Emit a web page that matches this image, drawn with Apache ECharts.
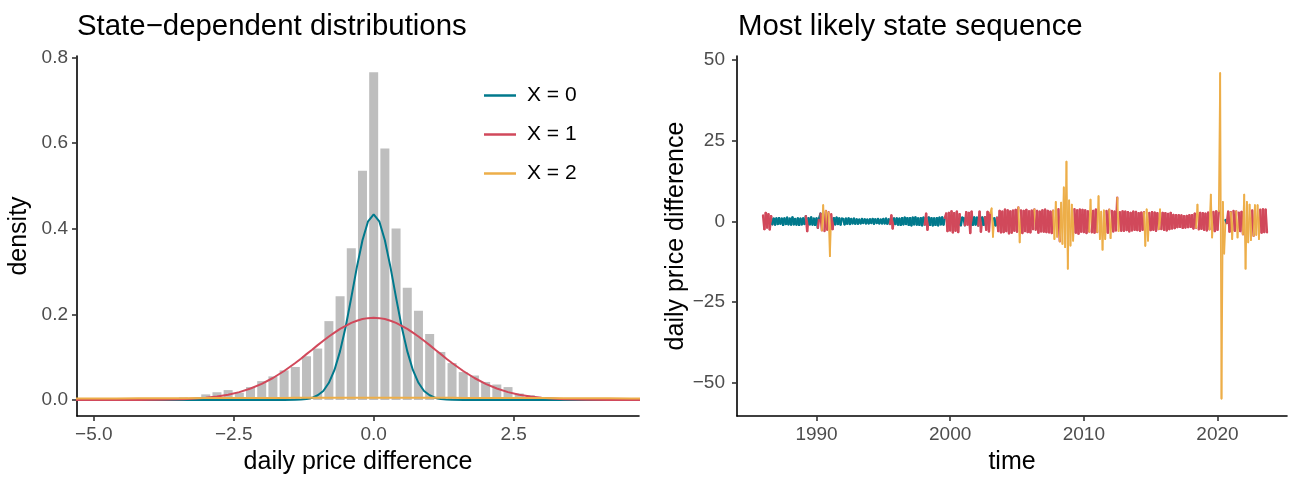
<!DOCTYPE html>
<html>
<head>
<meta charset="utf-8">
<script src="https://cdn.jsdelivr.net/npm/echarts@6/dist/echarts.min.js"></script>
<style>
  html, body { margin: 0; padding: 0; background: #ffffff; }
  #chart { width: 1291px; height: 480px; }
</style>
</head>
<body>
<div id="chart"></div>
<script>
// ---------- histogram of daily price differences (bin centre, density) ----------
const binCenters = [-3.4, -3.2, -3.0, -2.8, -2.6, -2.4, -2.2, -2.0, -1.8, -1.6, -1.4, -1.2,
  -1.0, -0.8, -0.6, -0.4, -0.2, 0.0, 0.2, 0.4, 0.6, 0.8, 1.0, 1.2, 1.4, 1.6, 1.8, 2.0,
  2.2, 2.4, 2.6, 2.8, 3.0, 3.2, 3.4];
const binDensity = [0.006, 0.004, 0.013, 0.018, 0.023, 0.017, 0.030, 0.044, 0.055, 0.069, 0.077, 0.102,
  0.120, 0.184, 0.242, 0.354, 0.535, 0.765, 0.587, 0.400, 0.262, 0.208, 0.154, 0.112, 0.086, 0.065, 0.057, 0.042,
  0.036, 0.030, 0.015, 0.011, 0.006, 0.003, 0.002];

// ---------- weighted state-dependent densities evaluated on a grid ----------
const curveX = [-5.4, -5.0, -4.6, -4.2, -3.8, -3.4,
  -3.0, -2.8, -2.6, -2.4, -2.2, -2.0, -1.8, -1.6, -1.4,
  -1.3, -1.2, -1.1, -1.0, -0.9, -0.8, -0.7, -0.6, -0.5, -0.4, -0.3, -0.2, -0.1,
  0.0,
  0.1, 0.2, 0.3, 0.4, 0.5, 0.6, 0.7, 0.8, 0.9, 1.0, 1.1, 1.2, 1.3,
  1.4, 1.6, 1.8, 2.0, 2.2, 2.4, 2.6, 2.8, 3.0,
  3.4, 3.8, 4.2, 4.6, 5.0];
const densState0 = [0, 0, 0, 0, 0, 0,
  0, 0, 0, 0, 0, 0, 0, 0, 0.0003,
  0.0009, 0.002, 0.005, 0.011, 0.021, 0.040, 0.070, 0.114, 0.171, 0.239, 0.310, 0.373, 0.417,
  0.433,
  0.417, 0.373, 0.310, 0.239, 0.171, 0.114, 0.070, 0.040, 0.021, 0.011, 0.005, 0.002, 0.0009,
  0.0003, 0, 0, 0, 0, 0, 0, 0, 0,
  0, 0, 0, 0, 0];
const densState1 = [0, 0, 0, 0.0001, 0.0005, 0.0017,
  0.0049, 0.0078, 0.0122, 0.0183, 0.0266, 0.0375, 0.0512, 0.0676, 0.0863,
  0.0963, 0.107, 0.117, 0.128, 0.138, 0.148, 0.157, 0.166, 0.173, 0.180, 0.185, 0.189, 0.191,
  0.192,
  0.191, 0.189, 0.185, 0.180, 0.173, 0.166, 0.157, 0.148, 0.138, 0.128, 0.117, 0.107, 0.0963,
  0.0863, 0.0676, 0.0512, 0.0375, 0.0266, 0.0183, 0.0122, 0.0078, 0.0049,
  0.0017, 0.0005, 0.0001, 0, 0];
const densState2 = [0.0033, 0.0034, 0.0036, 0.0038, 0.0040, 0.0042,
  0.0044, 0.0045, 0.0045, 0.0046, 0.0047, 0.0047, 0.0048, 0.0048, 0.0049,
  0.0049, 0.0049, 0.0049, 0.0050, 0.0050, 0.0050, 0.0050, 0.0050, 0.0050, 0.0050, 0.0050, 0.0050, 0.0050,
  0.0050,
  0.0050, 0.0050, 0.0050, 0.0050, 0.0050, 0.0050, 0.0050, 0.0050, 0.0050, 0.0050, 0.0049, 0.0049, 0.0049,
  0.0049, 0.0048, 0.0048, 0.0047, 0.0047, 0.0046, 0.0045, 0.0045, 0.0044,
  0.0042, 0.0040, 0.0038, 0.0036, 0.0034];

// ---------- price differences over time, ten readings per year, with decoded state ----------
const seriesYears = [1986, 1987, 1988, 1989, 1990, 1991, 1992, 1993, 1994, 1995,
  1996, 1997, 1998, 1999, 2000, 2001, 2002, 2003, 2004, 2005,
  2006, 2007, 2008, 2009, 2010, 2011, 2012, 2013, 2014, 2015,
  2016, 2017, 2018, 2019, 2020, 2021, 2022, 2023];
const diffByYear = [
  [1.8, -2.4, 2.6, -1.9, 2.2, -2.5, 1.6, -0.9, 0.8, -1.0],
  [0.9, -0.8, 1.0, -0.7, 0.8, -1.1, 0.9, -0.8, 1.1, -0.9],
  [0.8, -1.0, 1.2, -0.9, 0.7, -1.0, 0.9, -1.1, 0.8, -0.9],
  [0.9, -0.8, 1.6, -3.0, 1.0, -0.9, 1.2, -1.0, 0.8, -1.1],
  [0.9, -2.0, 1.0, 2.4, -2.8, 5.0, -3.0, 3.2, -2.6, 2.8],
  [-10.8, 2.2, -2.4, 1.0, -0.9, 1.1, -0.8, 0.9, -1.0, 0.8],
  [0.7, -0.9, 0.8, -0.7, 0.9, -0.8, 0.7, -0.6, 0.8, -0.7],
  [0.6, -0.7, 0.5, -0.6, 0.7, -0.5, 0.6, -0.6, 0.5, -0.6],
  [0.6, -0.5, 0.7, -0.7, 0.6, -0.5, 0.7, -0.6, 0.5, -0.6],
  [0.7, -0.6, 0.8, -0.7, 0.6, -0.8, 1.8, -2.2, 0.9, -0.8],
  [0.9, -1.0, 0.8, -1.1, 1.0, -0.9, 1.1, -0.8, 1.0, -1.1],
  [1.0, -1.2, 1.1, -0.9, 1.2, -1.0, 0.9, -1.1, 1.0, -1.2],
  [1.1, -1.0, 2.4, -2.6, 1.2, -1.1, 1.0, -1.2, 0.9, -1.1],
  [1.0, -1.2, 1.1, -0.9, 1.2, -1.0, 1.1, 2.4, -3.0, 2.6],
  [-2.8, 3.1, -3.4, 2.5, -2.9, 3.0, -3.3, 2.2, -1.2, 1.1],
  [1.0, -1.2, 2.8, -1.0, 2.6, -3.6, 3.0, -1.1, 1.2, -1.0],
  [1.1, -1.3, 3.0, -3.2, 1.2, -1.1, 1.3, -2.6, 2.9, -3.1],
  [2.6, 4.0, -4.8, 1.0, -1.2, 1.1, -3.0, 3.2, -3.4, 3.0],
  [-3.3, 3.6, -3.0, 3.4, -3.7, 3.1, -3.5, 3.3, -2.9, 3.5],
  [-3.2, 4.3, -6.5, 3.4, -3.6, 3.2, -3.0, 3.5, -3.3, 3.1],
  [-3.4, 3.3, -2.4, 3.7, -2.6, 3.2, -3.5, 3.0, -3.1, 3.4],
  [-3.2, 3.6, -3.3, 3.2, -3.4, 3.0, -3.6, 3.3, -5.5, 6.0],
  [-4.8, 3.8, -6.2, 5.8, -7.0, 10.5, -8.0, 18.5, -14.7, 6.5],
  [-7.5, 5.2, -6.0, 3.8, -3.5, 3.4, -3.8, 3.6, -3.2, 3.5],
  [-3.3, 3.4, -3.6, 3.1, -3.2, 6.7, -3.4, 3.2, -3.5, 3.6],
  [-3.3, 7.8, -5.5, 3.0, -8.8, 3.4, -5.5, 3.2, -3.5, 3.6],
  [-5.2, 3.2, -3.1, 3.0, -2.8, 7.3, -3.0, 2.8, -2.9, 3.1],
  [-2.9, 3.0, -2.7, 2.8, -3.1, 2.6, -2.8, 3.0, -2.6, 2.9],
  [-2.7, 2.5, -2.9, 2.7, -2.6, 2.8, -7.6, 3.7, -6.0, 2.6],
  [-2.7, 2.8, -2.6, 2.7, -2.9, 2.5, -2.4, 3.7, -2.4, 2.6],
  [-2.6, 2.5, -2.8, 2.3, -2.4, 2.6, -2.2, 2.0, -2.1, 1.9],
  [-1.8, 1.9, -1.7, 1.8, -2.0, 1.6, -1.9, 1.7, -1.8, 1.9],
  [-1.7, 1.9, -2.2, 2.4, -2.0, 5.2, -2.5, 2.6, -2.3, 2.5],
  [-2.6, 2.4, -2.8, 2.7, -2.5, 8.3, -5.0, 2.9, -3.0, 3.1],
  [-2.6, 3.1, 46.0, -55.0, 6.0, -10.0, 0.4, -0.5, 3.0, -3.2],
  [2.8, -5.5, 3.2, -2.9, 3.1, -5.0, 2.7, -3.0, 2.9, -4.0],
  [8.3, -14.7, 6.0, -6.5, 5.2, -5.8, 3.4, -4.5, 5.0, -4.2],
  [5.0, -5.5, 3.6, -3.5, 3.7, -3.3, 3.6, -3.4]
];
const stateByYear = [
  '1111111000', '0000000000', '0000000000', '0011000000', '0101221212',
  '2110000000', '0000000000', '0000000000', '0000000000', '0000011100',
  '0000000000', '0000000000', '0111000000', '0000001111', '1111111100',
  '0111111000', '0111001111', '2220011111', '1111111111', '1221111111',
  '1112111111', '1111111222', '2122222222', '2221111111', '1111221111',
  '2222222112', '2111122111', '1111111111', '1111122221', '1111112211',
  '1111111111', '1111111111', '1111221111', '1111222111', '1222220111',
  '2211221112', '2222221222', '22111111'
];

// ---------- axis ticks ----------
const densityXTicks = [-5.0, -2.5, 0.0, 2.5];
const densityYTicks = [0.0, 0.2, 0.4, 0.6, 0.8];
const timeTicks = [1990, 2000, 2010, 2020];
const diffTicks = [-50, -25, 0, 25, 50];

const stateNames = ['X = 0', 'X = 1', 'X = 2'];
const stateColors = ['#00798c', '#d1495b', '#edae49'];
const statePathWidth = [2.4, 2.4, 1.8];

// flatten yearly readings into consecutive path segments, each coloured by its starting state
const pathPoints = [];
seriesYears.forEach(function (yr, k) {
  diffByYear[k].forEach(function (v, j) {
    pathPoints.push([yr + j / 10, v, Number(stateByYear[k][j])]);
  });
});
const pathSegments = [];
for (let i = 0; i < pathPoints.length - 1; i++) {
  pathSegments.push([pathPoints[i][0], pathPoints[i][1], pathPoints[i + 1][0], pathPoints[i + 1][1], pathPoints[i][2]]);
}

const FONT = 'Liberation Sans';
const minus = function (s) { return String(s).replace('-', '\u2212'); };

const axisLineStyle = { show: true, onZero: false, lineStyle: { color: '#000000', width: 1.6 } };
const tickStyle = { color: '#333333', width: 1.6 };
const labelStyle = { color: '#4d4d4d', fontSize: 19, fontFamily: FONT };
const nameStyle = { color: '#000000', fontSize: 25, fontFamily: FONT };
const titleStyle = { fontSize: 29.4, fontWeight: 'normal', color: '#000000', fontFamily: FONT };

const chart = echarts.init(document.getElementById('chart'), null, { renderer: 'canvas' });

chart.setOption({
  animation: false,
  backgroundColor: '#ffffff',
  textStyle: { fontFamily: FONT },
  title: [
    { text: 'State\u2212dependent distributions', left: 77, top: 12, padding: 0, textStyle: titleStyle },
    { text: 'Most likely state sequence', left: 738, top: 12, padding: 0, textStyle: titleStyle }
  ],
  legend: {
    data: stateNames,
    orient: 'vertical',
    left: 479,
    top: 80,
    icon: 'rect',
    itemWidth: 32,
    itemHeight: 2.5,
    itemGap: 18,
    selectedMode: false,
    textStyle: { fontSize: 21, lineHeight: 21, color: '#000000', fontFamily: FONT, padding: [0, 0, 0, 6] }
  },
  grid: [
    { left: 77, top: 56, width: 562, height: 364 },
    { left: 737, top: 56, width: 550, height: 364 }
  ],
  xAxis: [
    {
      type: 'value', gridIndex: 0, min: -5.3, max: 4.74,
      axisLine: axisLineStyle,
      axisTick: { show: true, length: 5, lineStyle: tickStyle, customValues: densityXTicks },
      axisLabel: Object.assign({ margin: 9, customValues: densityXTicks,
        formatter: function (v) { return minus(v.toFixed(1)); } }, labelStyle),
      splitLine: { show: false },
      name: 'daily price difference', nameLocation: 'middle', nameGap: 34, nameTextStyle: nameStyle
    },
    {
      type: 'value', gridIndex: 1, min: 1984.05, max: 2025.2,
      axisLine: axisLineStyle,
      axisTick: { show: true, length: 5, lineStyle: tickStyle, customValues: timeTicks },
      axisLabel: Object.assign({ margin: 9, customValues: timeTicks,
        formatter: function (v) { return String(v); } }, labelStyle),
      splitLine: { show: false },
      name: 'time', nameLocation: 'middle', nameGap: 34, nameTextStyle: nameStyle
    }
  ],
  yAxis: [
    {
      type: 'value', gridIndex: 0, min: -0.0375, max: 0.803,
      axisLine: axisLineStyle,
      axisTick: { show: true, length: 5, lineStyle: tickStyle, customValues: densityYTicks },
      axisLabel: Object.assign({ margin: 9, customValues: densityYTicks,
        formatter: function (v) { return v.toFixed(1); } }, labelStyle),
      splitLine: { show: false },
      name: 'density', nameLocation: 'middle', nameGap: 45, nameTextStyle: nameStyle
    },
    {
      type: 'value', gridIndex: 1, min: -60.4, max: 51.3,
      axisLine: axisLineStyle,
      axisTick: { show: true, length: 5, lineStyle: tickStyle, customValues: diffTicks },
      axisLabel: Object.assign({ margin: 12, customValues: diffTicks,
        formatter: function (v) { return minus(v); } }, labelStyle),
      splitLine: { show: false },
      name: 'daily price difference', nameLocation: 'middle', nameGap: 48, nameTextStyle: nameStyle
    }
  ],
  series: [
    {
      type: 'bar', xAxisIndex: 0, yAxisIndex: 0, silent: true,
      barWidth: 9,
      itemStyle: { color: '#bebebe' },
      data: binCenters.map(function (c, i) { return [c, binDensity[i]]; })
    },
    {
      name: stateNames[0], type: 'line', xAxisIndex: 0, yAxisIndex: 0, silent: true,
      showSymbol: false, color: stateColors[0], lineStyle: { width: 2, color: stateColors[0] },
      data: curveX.map(function (x, i) { return [x, densState0[i]]; })
    },
    {
      name: stateNames[1], type: 'line', xAxisIndex: 0, yAxisIndex: 0, silent: true,
      showSymbol: false, color: stateColors[1], lineStyle: { width: 2, color: stateColors[1] },
      data: curveX.map(function (x, i) { return [x, densState1[i]]; })
    },
    {
      name: stateNames[2], type: 'line', xAxisIndex: 0, yAxisIndex: 0, silent: true,
      showSymbol: false, color: stateColors[2], lineStyle: { width: 2, color: stateColors[2] },
      data: curveX.map(function (x, i) { return [x, densState2[i]]; })
    },
    {
      type: 'custom', xAxisIndex: 1, yAxisIndex: 1, silent: true,
      encode: { x: [0, 2], y: [1, 3] },
      data: pathSegments,
      renderItem: function (params, api) {
        const p1 = api.coord([api.value(0), api.value(1)]);
        const p2 = api.coord([api.value(2), api.value(3)]);
        const s = api.value(4);
        return {
          type: 'line',
          shape: { x1: p1[0], y1: p1[1], x2: p2[0], y2: p2[1] },
          style: { stroke: stateColors[s], lineWidth: statePathWidth[s], lineCap: 'round' }
        };
      }
    }
  ]
});
</script>
</body>
</html>
